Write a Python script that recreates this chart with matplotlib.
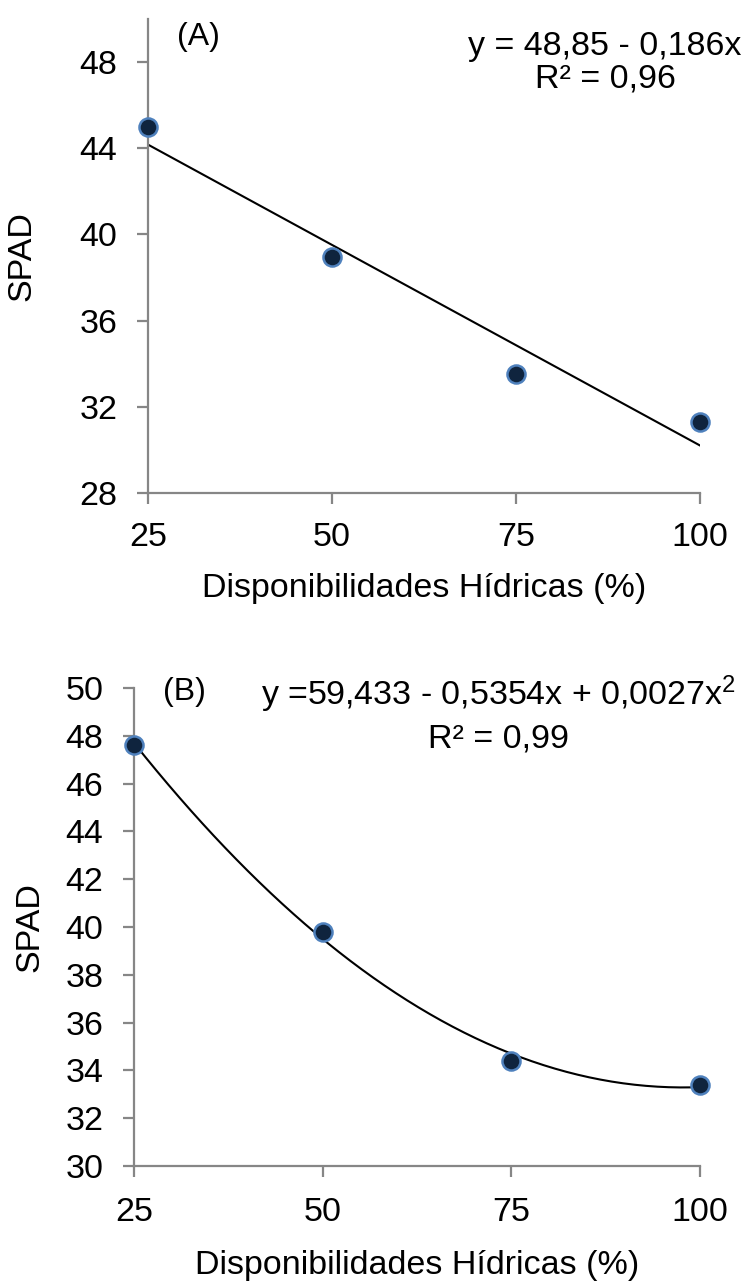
import numpy as np
import matplotlib
matplotlib.use("Agg")
import matplotlib.pyplot as plt

plt.rcParams['font.family'] = ['Liberation Sans', 'DejaVu Sans']
plt.rcParams['mathtext.fontset'] = 'custom'
plt.rcParams['mathtext.rm'] = 'Liberation Sans'
plt.rcParams['mathtext.it'] = 'Liberation Sans'

# Dados
disponibilidade = [25, 50, 75, 100]
spad_a = [45.0, 38.95, 33.5, 31.3]
spad_b = [47.6, 39.8, 34.4, 33.4]

eq_a = ["y = 48,85 - 0,186x", "R² = 0,96"]
eq_b = ["y =59,433 - 0,5354x + 0,0027x$^\\mathregular{2}$", "R² = 0,99"]

x_label = "Disponibilidades Hídricas (%)"
y_label = "SPAD"

cor_eixo = '#868686'
cor_ponto = '#0f243e'
cor_borda = '#4f81bd'
fs = 24.5

fig = plt.figure(figsize=(7.52, 12.82), dpi=100)
W, H = 752, 1282


def eixos(left, right, top, bottom):
    return fig.add_axes([left / W, 1 - bottom / H, (right - left) / W, (bottom - top) / H])


def texto(x, y, s, size=fs, **kw):
    # posição em pixels da figura (origem no topo)
    fig.text(x / W, 1 - y / H, s, fontsize=size, va='baseline', **kw)


def formatar(ax, ylab_x, xpad, lpad):
    for s in ['top', 'right']:
        ax.spines[s].set_visible(False)
    for s in ['left', 'bottom']:
        ax.spines[s].set_color(cor_eixo)
        ax.spines[s].set_linewidth(1.6)
    ax.tick_params(direction='out', length=8, width=1.6, color=cor_eixo,
                   labelsize=fs)
    ax.tick_params(axis='x', pad=xpad)
    ax.tick_params(axis='y', pad=14)
    ax.set_xlabel(x_label, fontsize=fs, labelpad=lpad)
    ax.set_ylabel(y_label, fontsize=fs)
    ax.yaxis.set_label_coords(ylab_x, 0.5)


xs = np.linspace(25, 100, 200)

# (A) regressão linear
ax1 = eixos(148, 700, 19, 493)
coef_a = np.polyfit(disponibilidade, spad_a, 1)
ax1.plot(xs, np.polyval(coef_a, xs), color='black', lw=1.5, zorder=2)
ax1.plot(disponibilidade, spad_a, 'o', ms=13, mfc=cor_ponto, mec=cor_borda,
         mew=1.8, clip_on=False, zorder=3)
ax1.set_xlim(25, 100)
ax1.set_ylim(28, 50)
ax1.set_xticks(disponibilidade)
ax1.set_yticks([28, 32, 36, 40, 44, 48])
formatar(ax1, -0.20, 13, 14)
texto(177, 45, "(A)", size=23, ha='left')
texto(605, 55, eq_a[0], ha='center')
texto(605, 88, eq_a[1], ha='center')

# (B) regressão quadrática
ax2 = eixos(134, 700, 688, 1166)
coef_b = np.polyfit(disponibilidade, spad_b, 2)
ax2.plot(xs, np.polyval(coef_b, xs), color='black', lw=1.5, zorder=2)
ax2.plot(disponibilidade, spad_b, 'o', ms=13, mfc=cor_ponto, mec=cor_borda,
         mew=1.8, clip_on=False, zorder=3)
ax2.set_xlim(25, 100)
ax2.set_ylim(30, 50)
ax2.set_xticks(disponibilidade)
ax2.set_yticks(np.arange(30, 51, 2))
formatar(ax2, -0.157, 14, 16)
texto(163, 700, "(B)", size=23, ha='left')
texto(499, 705, eq_b[0], ha='center')
texto(499, 748, eq_b[1], ha='center')

fig.savefig("out.png", dpi=100)
